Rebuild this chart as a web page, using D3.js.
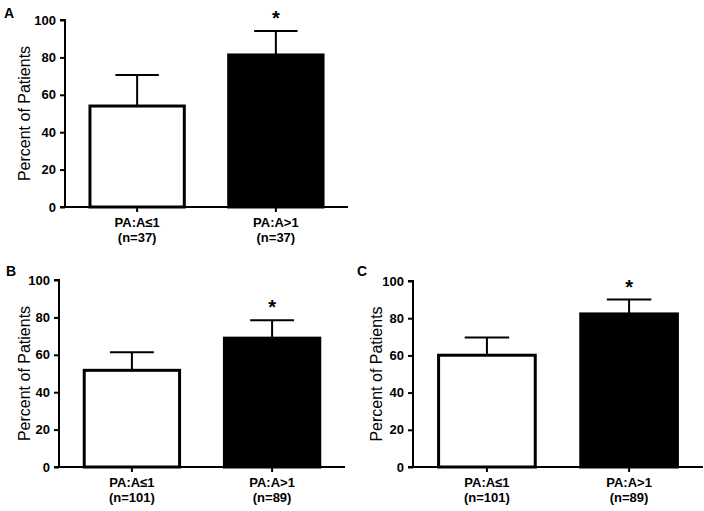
<!DOCTYPE html>
<html><head><meta charset="utf-8">
<script src="https://cdn.jsdelivr.net/npm/d3@7"></script>
<style>body{margin:0;background:#fff}svg{display:block}text{font-family:"Liberation Sans",Arial,sans-serif;fill:#000}</style>
</head><body>
<svg id="c" width="704" height="511"></svg>
<script>
const categories = ["PA:A≤1", "PA:A>1"];
const yTicks = [0, 20, 40, 60, 80, 100];
const nA = ["(n=37)", "(n=37)"];
const nB = ["(n=101)", "(n=89)"];
const nC = ["(n=101)", "(n=89)"];
const valuesA = [54.0, 81.3];
const upperA = [70.6, 94.1];
const valuesB = [51.7, 68.9];
const upperB = [61.3, 78.5];
const valuesC = [60.1, 82.3];
const upperC = [69.6, 90.0];
const signif = [false, true];
const fills = ["#ffffff", "#000000"];

const svg = d3.select("#c");

function panel(label, values, upper, ns, L) {
  const g = svg.append("g");
  const x = d3.scaleBand().domain(categories).range([L.left, L.right]).paddingInner(0.32).paddingOuter(0.18);
  const y = d3.scaleLinear().domain([0, 100]).range([L.bottom, L.top]);

  // bars
  g.selectAll("rect.bar").data(categories).join("rect")
    .attr("x", d => x(d)).attr("width", x.bandwidth())
    .attr("y", (d, i) => y(values[i])).attr("height", (d, i) => y(0) - y(values[i]))
    .attr("fill", (d, i) => fills[i]).attr("stroke", "#000").attr("stroke-width", 3);

  // error bars (upper only)
  const capW = x.bandwidth() * 0.46;
  categories.forEach((d, i) => {
    const cx = x(d) + x.bandwidth() / 2;
    g.append("line").attr("x1", cx).attr("x2", cx).attr("y1", y(values[i])).attr("y2", y(upper[i]))
      .attr("stroke", "#000").attr("stroke-width", 2);
    g.append("line").attr("x1", cx - capW / 2).attr("x2", cx + capW / 2).attr("y1", y(upper[i])).attr("y2", y(upper[i]))
      .attr("stroke", "#000").attr("stroke-width", 2);
    if (signif[i]) {
      g.append("text").attr("x", cx).attr("y", y(upper[i]) - 6).attr("text-anchor", "middle")
        .attr("font-size", 20).attr("font-weight", "bold").text("*");
    }
  });

  // y axis
  const ya = g.append("g").attr("transform", `translate(${L.left},0)`)
    .call(d3.axisLeft(y).tickValues(yTicks).tickSize(5).tickPadding(4));
  ya.select(".domain").attr("stroke-width", 2).attr("d", `M-5,${L.bottom}H0V${L.top}H-5`);
  ya.selectAll(".tick line").attr("stroke-width", 2);
  ya.selectAll(".tick text").attr("font-size", 13).attr("font-weight", "bold").attr("fill", "#000")
    .style("font-family", "'Liberation Sans', Arial, sans-serif");

  // x axis
  const xa = g.append("g").attr("transform", `translate(0,${L.bottom})`)
    .call(d3.axisBottom(x).tickSize(5).tickPadding(4));
  xa.select(".domain").attr("stroke-width", 2).attr("d", `M${L.left},0H${L.right}`);
  xa.selectAll(".tick line").attr("stroke-width", 2);
  xa.selectAll(".tick text").remove();
  categories.forEach((d, i) => {
    const cx = x(d) + x.bandwidth() / 2;
    const t = g.append("text").attr("x", cx).attr("text-anchor", "middle")
      .attr("font-size", 13).attr("font-weight", "bold");
    t.append("tspan").attr("x", cx).attr("y", L.bottom + 20).text(d);
    t.append("tspan").attr("x", cx).attr("y", L.bottom + 35).text(ns[i]);
  });

  // y title
  g.append("text").attr("transform", `translate(${L.titleX},${(L.top + L.bottom) / 2}) rotate(-90)`)
    .attr("text-anchor", "middle").attr("font-size", 16).text("Percent of Patients");

  // panel letter
  g.append("text").attr("x", L.letterX).attr("y", L.letterY).attr("font-size", 14).attr("font-weight", "bold").text(label);
}

panel("A", valuesA, upperA, nA, {left: 65, right: 348, top: 20, bottom: 207, titleX: 30, letterX: 4, letterY: 18});
panel("B", valuesB, upperB, nB, {left: 59, right: 345, top: 280, bottom: 467, titleX: 30, letterX: 6, letterY: 276});
panel("C", valuesC, upperC, nC, {left: 413, right: 703, top: 281, bottom: 467, titleX: 382, letterX: 357, letterY: 276});
</script>
</body></html>
